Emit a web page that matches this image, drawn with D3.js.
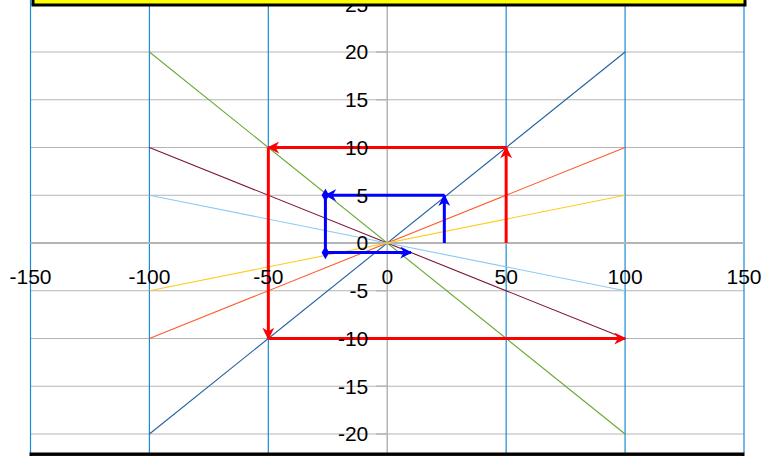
<!DOCTYPE html>
<html>
<head>
  <meta charset="utf-8">
  <script src="https://d3js.org/d3.v7.min.js"></script>
  <style>
    body { margin: 0; background: #fff; }
    svg text { font-family: "Liberation Sans", Arial, sans-serif; font-size: 21px; fill: #000; }
  </style>
</head>
<body>
  <svg id="viz"></svg>
  <script>
    // data
    let xTicks = [-150, -100, -50, 0, 50, 100, 150];
    let yTicks = [-20, -15, -10, -5, 0, 5, 10, 15, 20, 25];
    let lineX = [-100, 100];
    let seriesY = [[20, -20], [-20, 20], [10, -10], [-10, 10], [5, -5], [-5, 5]];
    let seriesColors = ["#6aa832", "#22609f", "#7f1535", "#ff5a2a", "#8ccbf3", "#ffcc22"];
    let redPath = [[50, 0], [50, 10], [-50, 10], [-50, -10], [100, -10]];
    let bluePath = [[24, 0], [24, 5], [-26, 5], [-26, -1], [10, -1]];
    let blueDots = [[-26, 5], [-26, -1]];

    let width = 769, height = 456;
    let svg = d3.select("#viz").attr("width", width).attr("height", height);

    let x = d3.scaleLinear().domain([-150, 150]).range([30.5, 744]);
    let y = d3.scaleLinear().domain([-20, 20]).range([434, 52]);
    let plotTop = 0, plotBottom = 453;

    // arrow markers
    let defs = svg.append("defs");
    function arrow(id, color) {
      defs.append("marker")
        .attr("id", id)
        .attr("viewBox", "0 0 10 10")
        .attr("refX", 9).attr("refY", 5)
        .attr("markerUnits", "userSpaceOnUse")
        .attr("markerWidth", 12).attr("markerHeight", 12)
        .attr("orient", "auto")
        .append("path")
        .attr("d", "M0,0 L10,5 L0,10 L3,5 Z")
        .attr("fill", color);
    }
    arrow("arrRed", "#ff0000");
    arrow("arrBlue", "#0000ff");

    // horizontal gridlines
    svg.append("g").selectAll("line")
      .data(yTicks.filter(d => d !== 0))
      .enter().append("line")
      .attr("x1", x(-150)).attr("x2", x(150))
      .attr("y1", d => y(d)).attr("y2", d => y(d))
      .attr("stroke", "#b4b4b4").attr("stroke-width", 1.2);

    // vertical gridlines
    svg.append("g").selectAll("line")
      .data(xTicks.filter(d => d !== 0))
      .enter().append("line")
      .attr("x1", d => x(d)).attr("x2", d => x(d))
      .attr("y1", plotTop).attr("y2", plotBottom)
      .attr("stroke", "#1a8ad6").attr("stroke-width", 1.2);

    // axes
    svg.append("line")
      .attr("x1", x(-150)).attr("x2", x(150))
      .attr("y1", y(0)).attr("y2", y(0))
      .attr("stroke", "#b4b4b4").attr("stroke-width", 2);
    svg.append("line")
      .attr("x1", x(0)).attr("x2", x(0))
      .attr("y1", plotTop).attr("y2", plotBottom)
      .attr("stroke", "#b4b4b4").attr("stroke-width", 1.5);

    // y tick marks
    svg.append("g").selectAll("line")
      .data(yTicks)
      .enter().append("line")
      .attr("x1", x(0) - 11).attr("x2", x(0))
      .attr("y1", d => y(d)).attr("y2", d => y(d))
      .attr("stroke", "#b4b4b4").attr("stroke-width", 1.5);

    // thin series lines
    svg.append("g").selectAll("line")
      .data(seriesY)
      .enter().append("line")
      .attr("x1", x(lineX[0])).attr("x2", x(lineX[1]))
      .attr("y1", d => y(d[0])).attr("y2", d => y(d[1]))
      .attr("stroke", (d, i) => seriesColors[i])
      .attr("stroke-width", 1.1);

    // arrow paths, one segment each
    function segments(pts) {
      return pts.slice(1).map((p, i) => [pts[i], p]);
    }
    svg.append("g").selectAll("line")
      .data(segments(redPath))
      .enter().append("line")
      .attr("x1", d => x(d[0][0])).attr("y1", d => y(d[0][1]))
      .attr("x2", d => x(d[1][0])).attr("y2", d => y(d[1][1]))
      .attr("stroke", "#ff0000").attr("stroke-width", 3)
      .attr("marker-end", "url(#arrRed)");

    svg.append("g").selectAll("line")
      .data(segments(bluePath))
      .enter().append("line")
      .attr("x1", d => x(d[0][0])).attr("y1", d => y(d[0][1]))
      .attr("x2", d => x(d[1][0])).attr("y2", d => y(d[1][1]))
      .attr("stroke", "#0000ff").attr("stroke-width", 3)
      .attr("marker-end", (d, i) => i === 2 ? null : "url(#arrBlue)");

    svg.append("g").selectAll("path")
      .data(blueDots)
      .enter().append("path")
      .attr("d", d3.symbol().type(d3.symbolDiamond).size(50))
      .attr("transform", d => `translate(${x(d[0])},${y(d[1])})`)
      .attr("fill", "#0000ff");

    // y labels
    svg.append("g").selectAll("text")
      .data(yTicks)
      .enter().append("text")
      .attr("x", x(0) - 19)
      .attr("y", d => y(d))
      .attr("dy", "0.35em")
      .attr("text-anchor", "end")
      .text(d => d);

    // x labels
    svg.append("g").selectAll("text")
      .data(xTicks)
      .enter().append("text")
      .attr("x", d => x(d))
      .attr("y", 277)
      .attr("dy", "0.35em")
      .attr("text-anchor", "middle")
      .text(d => d);

    // yellow box at top, partly off-screen
    svg.append("rect")
      .attr("x", 33).attr("y", -20)
      .attr("width", 712).attr("height", 25)
      .attr("fill", "#ffff00")
      .attr("stroke", "#000").attr("stroke-width", 3);

    // border at bottom
    svg.append("rect")
      .attr("x", 31).attr("y", 454)
      .attr("width", 712).attr("height", 20)
      .attr("fill", "#2a2a10")
      .attr("stroke", "#000").attr("stroke-width", 3);
  </script>
</body>
</html>
